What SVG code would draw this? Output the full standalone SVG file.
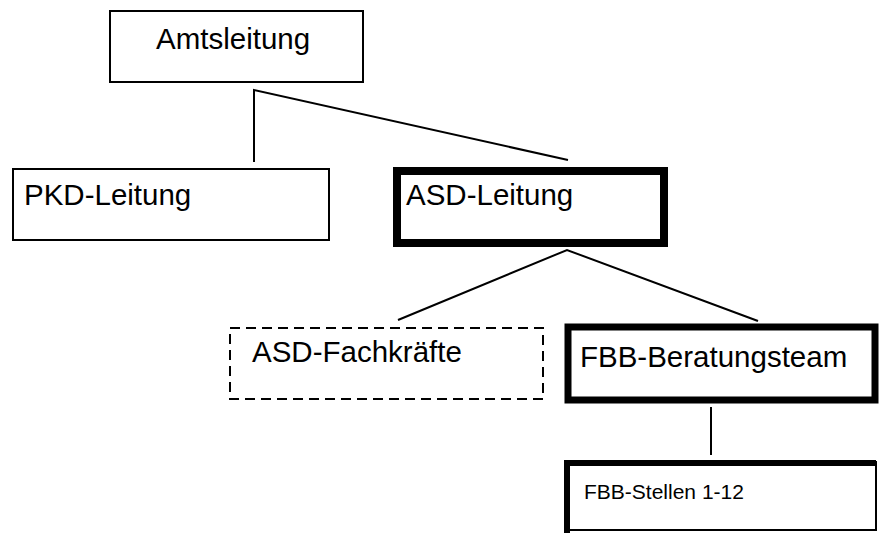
<svg xmlns="http://www.w3.org/2000/svg" width="879" height="533" viewBox="0 0 879 533">
  <style>
    .box { fill: #ffffff; stroke: #000000; }
    .thin { stroke-width: 2; }
    .bold { stroke-width: 8; }
    .dashed { stroke-width: 2; stroke-dasharray: 10 6; }
    .edge { fill: none; stroke: #000000; stroke-width: 2; }
    .lbl { font-family: "Liberation Sans", Arial, sans-serif; font-size: 29.5px; fill: #000000; }
    .small { font-size: 21px; }
  </style>
  <rect width="879" height="533" fill="#ffffff"/>

  <g id="connectors">
    <polyline class="edge" points="254,162 254,90 568,160"/>
    <polyline class="edge" points="398,320 567,250 758,321"/>
    <line class="edge" x1="711" y1="407" x2="711" y2="455"/>
  </g>

  <g id="amtsleitung">
    <rect class="box thin" x="110" y="11" width="253" height="71"/>
    <text class="lbl" x="156" y="49">Amtsleitung</text>
  </g>

  <g id="pkd-leitung">
    <rect class="box thin" x="13" y="169" width="316" height="71"/>
    <text class="lbl" x="24" y="205">PKD-Leitung</text>
  </g>

  <g id="asd-leitung">
    <rect class="box bold" x="397" y="171" width="267" height="72"/>
    <text class="lbl" x="406" y="205">ASD-Leitung</text>
  </g>

  <g id="asd-fachkraefte">
    <rect class="box dashed" x="230" y="328" width="313" height="71"/>
    <text class="lbl" x="252" y="362">ASD-Fachkräfte</text>
  </g>

  <g id="fbb-beratungsteam">
    <rect class="box" stroke-width="7" x="568" y="327" width="307" height="73"/>
    <text class="lbl" x="580" y="367">FBB-Beratungsteam</text>
  </g>

  <g id="fbb-stellen">
    <rect class="box thin" x="567" y="462" width="309" height="68"/>
    <path d="M567,533 V463 H876" fill="none" stroke="#000000" stroke-width="6"/>
    <text class="lbl small" x="584" y="499">FBB-Stellen 1-12</text>
  </g>
</svg>
